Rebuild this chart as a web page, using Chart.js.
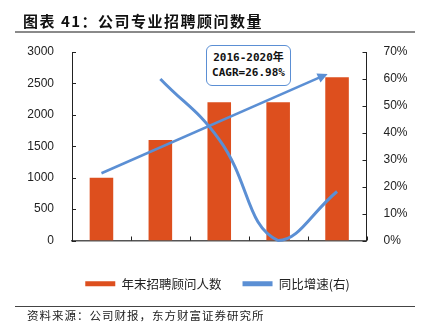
<!DOCTYPE html>
<html>
<head>
<meta charset="utf-8">
<script src="https://cdn.jsdelivr.net/npm/chart.js@4/dist/chart.umd.min.js"></script>
<style>
  html, body { margin: 0; padding: 0; background: #fff; }
  #wrap { position: relative; width: 424px; height: 325px; overflow: hidden; }
  #graph { position: absolute; left: 0; top: 0; }
  .title { position: absolute; left: 23px; top: 12px; font: bold 15px "Noto Sans CJK SC"; letter-spacing: 1.5px; color: #111; line-height: 18px; white-space: nowrap; }
  .rule1 { position: absolute; left: 15px; width: 400px; top: 31px; height: 2px; background: #8a8a8a; }
  .rule2 { position: absolute; left: 15px; width: 400px; top: 306px; height: 1px; background: #444; }
  .source { position: absolute; left: 27px; top: 308px; font: 11.5px "Noto Sans CJK SC"; letter-spacing: 1px; color: #222; line-height: 15px; white-space: nowrap; }
  .cagr { position: absolute; left: 206px; top: 45px; width: 85px; height: 41px; border: 1.5px solid #5b8fd4; border-radius: 6px; background: #fff;
          font: bold 11px "DejaVu Sans Mono", "Noto Sans CJK SC"; color: #111; text-align: center; line-height: 15px; padding-top: 4px; box-sizing: border-box; }
</style>
</head>
<body>
<div id="wrap">
  <canvas id="graph" width="424" height="325"></canvas>
  <div class="title">图表 41：公司专业招聘顾问数量</div>
  <div class="rule1"></div>
  <div class="cagr">2016-2020年<br>CAGR=26.98%</div>
  <div class="rule2"></div>
  <div class="source">资料来源：公司财报，东方财富证券研究所</div>
</div>
<script>
const years = ['2016', '2017', '2018', '2019', '2020'];
const advisors = [1000, 1600, 2200, 2200, 2600];
const growth = [null, 60, 37.5, 0, 18.2];
// CAGR arrow, in data units: [category index, left axis value]
const cagrArrow = [[0, 1070], [3.84, 2650]];

const red = '#dd4f1e';
const blue = '#5b8fd4';

Chart.defaults.font.family = 'Liberation Sans';
Chart.defaults.font.size = 12;
Chart.defaults.color = '#222';

const canva = document.getElementById('graph');

// inward tick marks + CAGR arrow
const extras = {
    id: 'extras',
    afterDatasetsDraw(chart) {
        const ctx = chart.ctx;
        const x = chart.scales.x, yl = chart.scales.y, yr = chart.scales.y1;
        const a = chart.chartArea;
        ctx.save();
        ctx.strokeStyle = '#222';
        ctx.lineWidth = 1;
        ctx.beginPath();
        yl.ticks.forEach((t, i) => {
            const py = Math.round(yl.getPixelForTick(i)) + 0.5;
            ctx.moveTo(a.left, py); ctx.lineTo(a.left + 4, py);
        });
        yr.ticks.forEach((t, i) => {
            const py = Math.round(yr.getPixelForTick(i)) + 0.5;
            ctx.moveTo(a.right - 4, py); ctx.lineTo(a.right, py);
        });
        for (let i = 0; i <= years.length; i++) {
            const px = Math.round(x.getPixelForValue(i - 0.5)) + 0.5;
            ctx.moveTo(px, a.bottom); ctx.lineTo(px, a.bottom - 4);
        }
        ctx.stroke();

        // arrow
        const x0 = x.getPixelForValue(cagrArrow[0][0]), y0 = yl.getPixelForValue(cagrArrow[0][1]);
        const x1 = x.getPixelForValue(cagrArrow[1][0]), y1 = yl.getPixelForValue(cagrArrow[1][1]);
        const ang = Math.atan2(y1 - y0, x1 - x0);
        ctx.strokeStyle = blue;
        ctx.fillStyle = blue;
        ctx.lineWidth = 2.5;
        ctx.beginPath();
        ctx.moveTo(x0, y0);
        ctx.lineTo(x1 - 8 * Math.cos(ang), y1 - 8 * Math.sin(ang));
        ctx.stroke();
        ctx.beginPath();
        ctx.moveTo(x1, y1);
        ctx.lineTo(x1 - 10 * Math.cos(ang) + 5 * Math.sin(ang), y1 - 10 * Math.sin(ang) - 5 * Math.cos(ang));
        ctx.lineTo(x1 - 10 * Math.cos(ang) - 5 * Math.sin(ang), y1 - 10 * Math.sin(ang) + 5 * Math.cos(ang));
        ctx.closePath();
        ctx.fill();
        ctx.restore();
    }
};

const data = {
    labels: years,
    datasets: [{
        type: 'line',
        label: '同比增速(右)',
        data: growth,
        yAxisID: 'y1',
        borderColor: blue,
        backgroundColor: blue,
        borderWidth: 3,
        pointRadius: 0,
        tension: 0.45,
        clip: false,
        order: 0
    }, {
        type: 'bar',
        label: '年末招聘顾问人数',
        data: advisors,
        yAxisID: 'y',
        backgroundColor: red,
        categoryPercentage: 1,
        barPercentage: 0.4,
        order: 1
    }]
};

const config = {
    data,
    options: {
        responsive: false,
        animation: false,
        layout: { padding: { left: 11, right: 0, top: 52, bottom: 25 } },
        plugins: {
            tooltip: { enabled: false },
            legend: {
                position: 'bottom',
                reverse: true,
                labels: {
                    boxWidth: 30,
                    boxHeight: 5,
                    padding: 21,
                    color: '#222',
                    font: { family: 'Noto Sans CJK SC', size: 12.5 },
                    generateLabels(chart) {
                        const items = Chart.defaults.plugins.legend.labels.generateLabels(chart);
                        return items.map(it => {
                            const ds = chart.data.datasets[it.datasetIndex];
                            it.fillStyle = ds.type === 'bar' ? red : blue;
                            it.strokeStyle = it.fillStyle;
                            it.lineWidth = 0;
                            return it;
                        });
                    }
                }
            }
        },
        scales: {
            x: {
                grid: { display: false },
                border: { color: '#555', width: 1.5 },
                ticks: { padding: 7, color: '#222' },
                afterFit(scale) { scale.height = 16; }
            },
            y: {
                position: 'left',
                min: 0, max: 3000,
                grid: { display: false },
                border: { color: '#222', width: 1 },
                ticks: { stepSize: 500, padding: 10, color: '#222', callback: v => String(v) },
                afterFit(scale) { scale.width = 61; }
            },
            y1: {
                position: 'right',
                min: 0, max: 70,
                grid: { display: false },
                border: { color: '#222', width: 1 },
                ticks: { stepSize: 10, padding: 9, color: '#222', callback: v => v + '%' },
                afterFit(scale) { scale.width = 57.5; }
            }
        }
    },
    plugins: [extras]
};

var chart = new Chart(canva, config);
</script>
</body>
</html>
